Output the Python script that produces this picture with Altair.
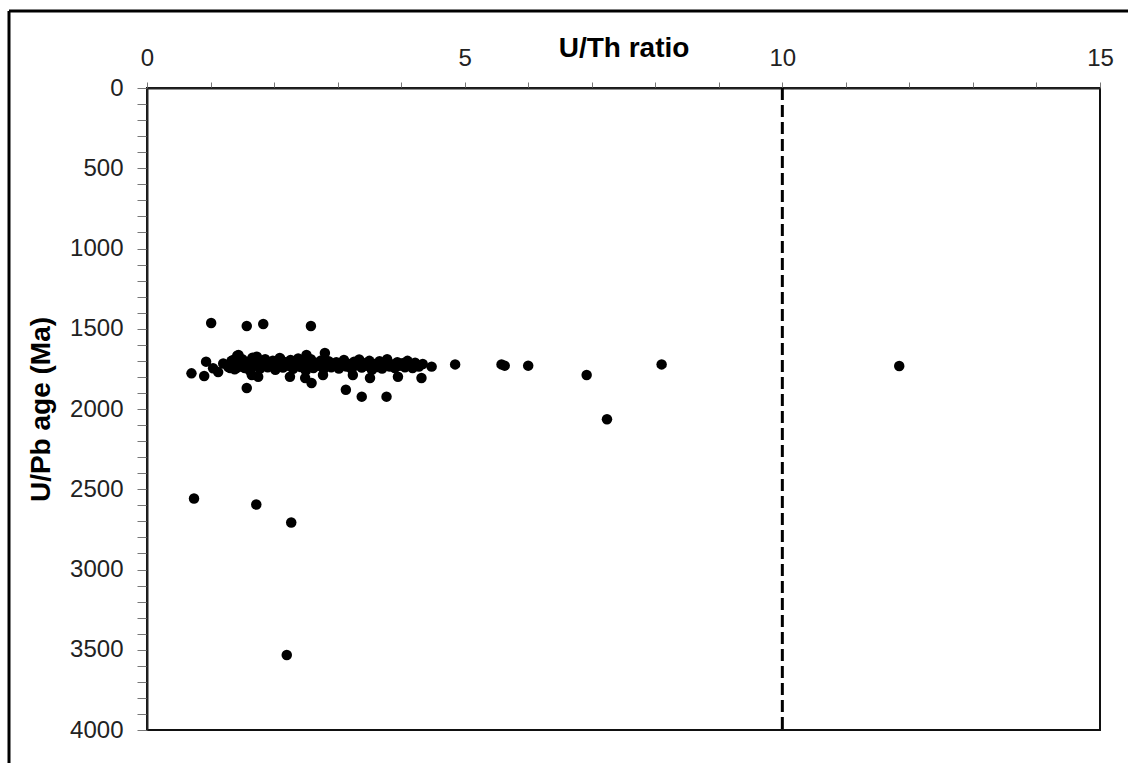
import altair as alt
import pandas as pd

# U/Th ratio (x) and U/Pb age in Ma (y)
ratio = [
    # main cluster band
    1.20, 1.28, 1.33, 1.38, 1.42, 1.46, 1.50, 1.54, 1.58, 1.62, 1.66, 1.70, 1.74, 1.78, 1.82,
    1.86, 1.90, 1.94, 1.98, 2.02, 2.06, 2.10, 2.14, 2.18, 2.22, 2.26, 2.30, 2.34, 2.38, 2.42,
    2.46, 2.50, 2.54, 2.58, 2.62, 2.66, 2.70, 2.74, 2.78, 2.82, 2.86, 2.90, 2.94, 2.98, 3.02,
    3.06, 3.10, 3.14, 3.18, 3.22, 3.26, 3.30, 3.34, 3.38, 3.42, 3.46, 3.50, 3.54, 3.58, 3.62,
    3.66, 3.70, 3.74, 3.78, 3.82, 3.86, 3.90, 3.94, 3.98, 4.02, 4.06, 4.10, 4.14, 4.18, 4.22,
    4.28, 4.34,
    # upper edge of cluster
    1.44, 1.73, 2.51, 2.80, 1.36,
    # lower edge of cluster and near points
    1.12, 1.65, 1.75, 2.25, 2.49, 2.59, 2.77, 3.13, 3.24, 3.51, 3.95, 4.32, 4.48, 1.57, 3.38,
    3.77, 0.70, 0.90, 0.93, 1.04, 1.31, 1.41, 1.51, 2.09,
    # younger outliers
    1.01, 1.57, 1.83, 2.58,
    # older / high-ratio outliers
    0.74, 1.72, 2.27, 2.20, 4.85, 5.58, 5.63, 6.00, 6.92, 7.24, 8.10, 11.84,
]
age = [
    1716, 1738, 1700, 1752, 1668, 1722, 1690, 1745, 1705, 1760, 1680, 1730, 1698, 1748, 1712,
    1690, 1740, 1718, 1700, 1755, 1725, 1688, 1742, 1708, 1730, 1695, 1750, 1715, 1685, 1738,
    1705, 1760, 1722, 1690, 1745, 1712, 1730, 1698, 1752, 1718, 1702, 1740, 1725, 1708, 1748,
    1715, 1695, 1735, 1720, 1750, 1705, 1728, 1692, 1742, 1715, 1730, 1700, 1755, 1720, 1738,
    1702, 1748, 1715, 1690, 1735, 1722, 1745, 1708, 1730, 1715, 1740, 1700, 1725, 1745, 1712,
    1735, 1720,
    1663, 1674, 1663, 1651, 1695,
    1770, 1788, 1799, 1799, 1807, 1838, 1788, 1880, 1788, 1807, 1799, 1807, 1736, 1869, 1923,
    1923, 1778, 1794, 1705, 1746, 1745, 1745, 1738, 1682,
    1464, 1483, 1470, 1483,
    2558, 2595, 2707, 3533, 1722, 1722, 1730, 1730, 1788, 2064, 1722, 1732,
]

threshold = [10]
x_ticks = list(range(0, 16))
y_ticks = list(range(0, 4001, 100))

df = pd.DataFrame({"ratio": ratio, "age": age})
df_thr = pd.DataFrame({"ratio": threshold})

FONT = "Liberation Sans"
W, H = 953, 642

x_scale = alt.Scale(domain=[0, 15], nice=False, zero=False)
y_scale = alt.Scale(domain=[0, 4000], reverse=True, nice=False)

x_axis = alt.Axis(
    orient="top", values=x_ticks, format="d",
    labelExpr="datum.value % 5 === 0 ? datum.label : ''",
    title="U/Th ratio", titleFont=FONT, titleFontSize=28, titleFontWeight="bold",
    titleColor="black", titleX=W / 2, titleY=-32, titleBaseline="alphabetic",
    labelFont=FONT, labelFontSize=24, labelColor="#222", labelPadding=12,
    labelOverlap=False, labelFlush=False, tickSize=6, tickColor="#777",
    domainColor="#222", domainWidth=2, grid=False,
)
y_axis = alt.Axis(
    orient="left", values=y_ticks, format="d",
    labelExpr="datum.value % 500 === 0 ? datum.label : ''",
    title="U/Pb age (Ma)", titleFont=FONT, titleFontSize=28, titleFontWeight="bold",
    titleColor="black", titleAngle=-90, titleX=-98, titleY=H / 2,
    titleBaseline="alphabetic", titleAlign="center",
    labelFont=FONT, labelFontSize=24, labelColor="#222", labelPadding=14,
    labelOverlap=False, labelFlush=False, tickSize=10, tickColor="#777",
    domainColor="#222", domainWidth=2, grid=False,
)

points = alt.Chart(df).mark_circle(size=110, color="black", opacity=1).encode(
    x=alt.X("ratio:Q", scale=x_scale, axis=x_axis),
    y=alt.Y("age:Q", scale=y_scale, axis=y_axis),
)

dash = alt.Chart(df_thr).mark_rule(color="black", strokeWidth=3, strokeDash=[12, 5]).encode(
    x=alt.X("ratio:Q", scale=x_scale),
)

frame_left = alt.Chart(df_thr).mark_rule(color="black", strokeWidth=3).encode(
    x=alt.value(-138), y=alt.value(-77), y2=alt.value(700)
)
frame_top = alt.Chart(df_thr).mark_rule(color="black", strokeWidth=3).encode(
    x=alt.value(-138), x2=alt.value(1000), y=alt.value(-77)
)

chart = alt.layer(points, dash, frame_left, frame_top).properties(
    width=W, height=H,
    autosize=alt.AutoSizeParams(type="none"),
    padding={"left": 147, "top": 88, "right": 28, "bottom": 33},
    background="white",
).configure_view(stroke="#111", strokeWidth=2)

chart.save("out.html", embed_options={"renderer": "svg", "actions": False})
